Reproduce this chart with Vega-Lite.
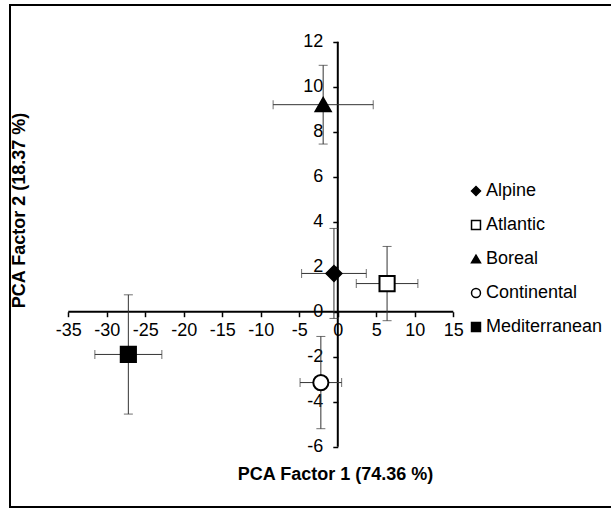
{
  "$schema": "https://vega.github.io/schema/vega-lite/v6.json",
  "autosize": {"type": "none"},
  "padding": {"left": 10, "top": 5, "right": -2, "bottom": 5},
  "width": 603,
  "height": 502,
  "background": "white",
  "config": {
    "font": "Liberation Sans",
    "view": {"stroke": "black", "strokeWidth": 2},
    "axis": {
      "grid": false,
      "domain": false,
      "ticks": true,
      "tickSize": 5,
      "tickWidth": 1.5,
      "tickColor": "black",
      "labelFont": "Liberation Sans",
      "labelFontSize": 18,
      "labelColor": "black",
      "labelOverlap": false,
      "labelFlush": false,
      "labelExpr": "datum.value < 0 ? '-' + (-datum.value) : '' + datum.value",
      "titleFont": "Liberation Sans",
      "titleFontSize": 18,
      "titleFontWeight": "bold",
      "titleColor": "black"
    }
  },
  "datasets": {
    "regions": [
      {"region": "Alpine", "x": -0.5, "y": 1.7, "xerr": 4.2, "yerr": 2.0},
      {"region": "Atlantic", "x": 6.4, "y": 1.25, "xerr": 4.0, "yerr": 1.65},
      {"region": "Boreal", "x": -1.9, "y": 9.2, "xerr": 6.5, "yerr": 1.75},
      {"region": "Continental", "x": -2.2, "y": -3.15, "xerr": 2.7, "yerr": 2.05},
      {"region": "Mediterranean", "x": -27.2, "y": -1.9, "xerr": 4.35, "yerr": 2.65}
    ],
    "axisLines": [
      {"x": -35, "x_end": 15, "y": 0, "y_end": 0},
      {"x": 0, "x_end": 0, "y": -6, "y_end": 12}
    ]
  },
  "encoding": {
    "x": {
      "field": "x",
      "type": "quantitative",
      "scale": {"domain": [-42.57, 35.74], "nice": false, "zero": false},
      "axis": {
        "orient": "bottom",
        "offset": -195.3,
        "values": [-35, -30, -25, -20, -15, -10, -5, 0, 5, 10, 15],
        "labelPadding": 5,
        "title": "PCA Factor 1 (74.36 %)",
        "titleX": 325,
        "titleY": 168,
        "titleBaseline": "alphabetic"
      }
    },
    "y": {
      "field": "y",
      "type": "quantitative",
      "scale": {"domain": [-8.68, 13.63], "nice": false, "zero": false},
      "axis": {
        "orient": "left",
        "offset": -327.8,
        "values": [-6, -4, -2, 0, 2, 4, 6, 8, 10, 12],
        "labelPadding": 10,
        "title": "PCA Factor 2 (18.37 %)",
        "titleX": -318,
        "titleY": 205,
        "titleBaseline": "middle"
      }
    }
  },
  "layer": [
    {
      "data": {"name": "axisLines"},
      "mark": {"type": "rule", "color": "black", "strokeWidth": 2},
      "encoding": {
        "x2": {"field": "x_end"},
        "y2": {"field": "y_end"}
      }
    },
    {
      "data": {"name": "regions"},
      "mark": {"type": "errorbar", "color": "#333333", "thickness": 1, "ticks": {"size": 9}},
      "encoding": {
        "xError": {"field": "xerr"}
      }
    },
    {
      "data": {"name": "regions"},
      "mark": {"type": "errorbar", "color": "#333333", "thickness": 1, "ticks": {"size": 9}},
      "encoding": {
        "yError": {"field": "yerr"}
      }
    },
    {
      "data": {"name": "regions"},
      "mark": {"type": "point", "filled": true, "size": 230, "stroke": "black", "strokeWidth": 2, "opacity": 1},
      "encoding": {
        "fill": {
          "field": "region",
          "type": "nominal",
          "scale": {"domain": ["Alpine", "Atlantic", "Boreal", "Continental", "Mediterranean"], "range": ["black", "white", "black", "white", "black"]},
          "legend": {
            "title": null, "orient": "none", "legendX": 457, "legendY": 177,
            "labelFontSize": 18, "labelColor": "black", "labelFont": "Liberation Sans",
            "symbolSize": 80, "rowPadding": 16, "labelOffset": 1, "padding": 0,
            "encode": {"symbols": {"update": {"stroke": {"value": "black"}, "strokeWidth": {"value": 1}}}}
          }
        },
        "shape": {
          "field": "region",
          "type": "nominal",
          "scale": {"domain": ["Alpine", "Atlantic", "Boreal", "Continental", "Mediterranean"], "range": ["diamond", "square", "triangle-up", "circle", "square"]},
          "legend": {
            "title": null, "orient": "none", "legendX": 457, "legendY": 177,
            "labelFontSize": 18, "labelColor": "black", "labelFont": "Liberation Sans",
            "symbolSize": 80, "rowPadding": 16, "labelOffset": 1, "padding": 0,
            "encode": {"symbols": {"update": {"stroke": {"value": "black"}, "strokeWidth": {"value": 1}}}}
          }
        }
      }
    }
  ]
}
